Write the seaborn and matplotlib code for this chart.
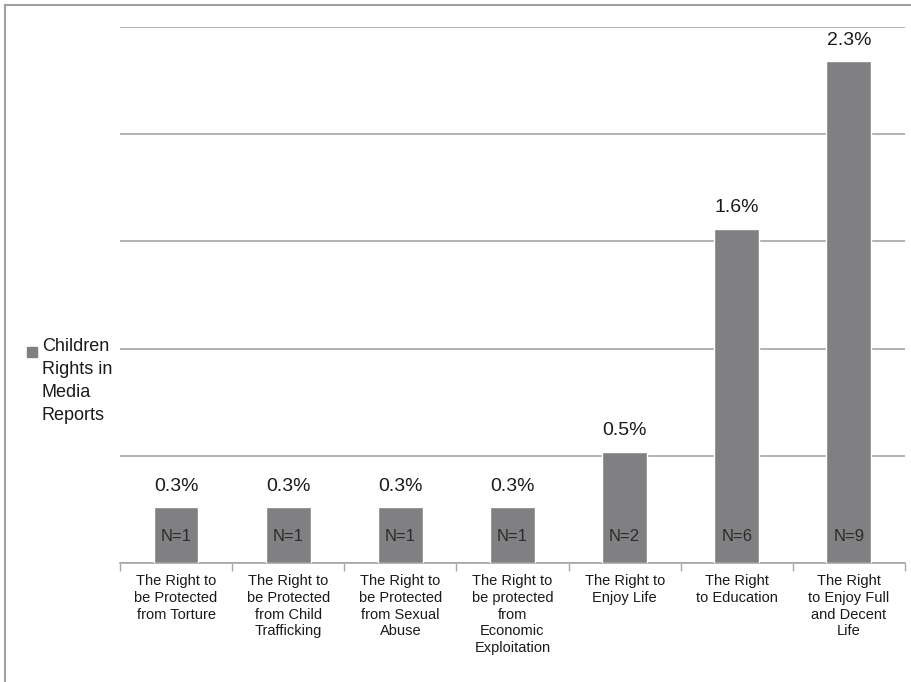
import matplotlib
matplotlib.use("Agg")
import matplotlib.pyplot as plt
from matplotlib.lines import Line2D
from matplotlib.patches import Rectangle
import seaborn as sns
import pandas as pd

# data
categories = [
    "The Right to\nbe Protected\nfrom Torture",
    "The Right to\nbe Protected\nfrom Child\nTrafficking",
    "The Right to\nbe Protected\nfrom Sexual\nAbuse",
    "The Right to\nbe protected\nfrom\nEconomic\nExploitation",
    "The Right to\nEnjoy Life",
    "The Right\nto Education",
    "The Right\nto Enjoy Full\nand Decent\nLife",
]
pct = [0.26, 0.26, 0.26, 0.26, 0.52, 1.56, 2.34]
n_counts = [1, 1, 1, 1, 2, 6, 9]
series_name = "Children\nRights in\nMedia\nReports"

BAR_COLOR  = "#808083"
GRID_COLOR = "#A6A6A6"
TEXT_COLOR = "#1A1A1A"
FONT = ["Liberation Sans Narrow", "Liberation Sans", "DejaVu Sans"]

sns.set_theme(style="white")
plt.rcParams["font.family"] = FONT

df = pd.DataFrame({"category": categories, "pct": pct, "n": n_counts})

fig = plt.figure(figsize=(9.12, 6.82), dpi=100)
ax = fig.add_axes([120 / 912, 1 - 563 / 682, 785 / 912, (563 - 27) / 682])

sns.barplot(data=df, x="category", y="pct", color=BAR_COLOR, width=0.4,
            saturation=1, ax=ax, zorder=3)

ax.set_ylim(0, 2.5)
ax.set_xlim(-0.5, len(categories) - 0.5)
ax.set_yticks([0, 0.5, 1.0, 1.5, 2.0, 2.5])
ax.yaxis.grid(True, color=GRID_COLOR, lw=1.2, zorder=0)
ax.tick_params(axis="y", left=False, labelleft=False)
ax.set_xlabel("")
ax.set_ylabel("")
for side in ["top", "right", "left"]:
    ax.spines[side].set_visible(False)
ax.spines["bottom"].set_color(GRID_COLOR)
ax.spines["bottom"].set_linewidth(1.2)

# category labels at centres, small ticks at boundaries
ax.set_xticks(range(len(categories)))
ax.set_xticklabels(categories, fontsize=10.5, color=TEXT_COLOR, linespacing=1.25,
                   va="top")
ax.tick_params(axis="x", which="major", length=0, pad=8)
ax.set_xticks([i - 0.5 for i in range(len(categories) + 1)], minor=True)
ax.tick_params(axis="x", which="minor", bottom=True, length=6, width=1,
               color=GRID_COLOR)

# value labels above bars, N labels inside
for i, (v, n) in enumerate(zip(pct, n_counts)):
    ax.annotate(f"{v:.1f}%", (i, v), xytext=(0, 9), textcoords="offset points",
                ha="center", va="bottom", fontsize=14, color=TEXT_COLOR)
    ax.annotate(f"N={n}", (i, 0), xytext=(0, 19), textcoords="offset points",
                ha="center", va="center", fontsize=12, color="#2A2A2A")

# legend on the left
fig.patches.append(Rectangle((27 / 912, 1 - 357 / 682), 10 / 912, 10 / 682,
                             transform=fig.transFigure, color=BAR_COLOR))
fig.text(42 / 912, 1 - 338 / 682, series_name, ha="left", va="top",
         fontsize=13, color=TEXT_COLOR, linespacing=1.45)

# frame lines (left and top)
fig.add_artist(Line2D([5 / 912, 5 / 912], [0, 1 - 5 / 682],
                      transform=fig.transFigure, color="#A0A0A0", lw=1.5))
fig.add_artist(Line2D([5 / 912, 1], [1 - 5 / 682, 1 - 5 / 682],
                      transform=fig.transFigure, color="#A0A0A0", lw=1.5))

plt.savefig("out.png", dpi=100)
plt.close()
